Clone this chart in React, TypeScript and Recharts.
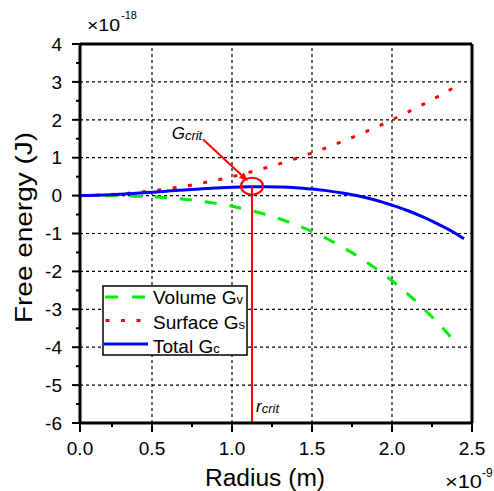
import React from 'react';
import { LineChart, Line, XAxis, YAxis, ReferenceLine, ReferenceDot } from 'recharts';

// ---- data (x in 1e-9 m, y in 1e-18 J) ----
const radius = [0.05, 0.1, 0.2, 0.3, 0.4, 0.5, 0.6, 0.7, 0.8, 0.9, 1.0, 1.1, 1.2, 1.3, 1.4, 1.5, 1.6, 1.7, 1.8, 1.9, 2.0, 2.1, 2.2, 2.3, 2.4];
const volume = [0, -0.0003, -0.002, -0.008, -0.018, -0.035, -0.061, -0.096, -0.144, -0.205, -0.281, -0.374, -0.486, -0.617, -0.771, -0.948, -1.151, -1.381, -1.639, -1.927, -2.248, -2.602, -2.992, -3.419, -3.885];
const surface = [0.001, 0.005, 0.02, 0.045, 0.08, 0.125, 0.18, 0.245, 0.32, 0.405, 0.5, 0.605, 0.72, 0.845, 0.98, 1.125, 1.28, 1.445, 1.62, 1.805, 2.0, 2.205, 2.42, 2.645, 2.88];
const totalRadius = [0.05, 0.1, 0.2, 0.3, 0.4, 0.5, 0.6, 0.7, 0.8, 0.9, 1.0, 1.1, 1.2, 1.3, 1.4, 1.5, 1.6, 1.7, 1.8, 1.9, 2.0, 2.1, 2.2, 2.3, 2.4, 2.45];
const total = [0.001, 0.005, 0.018, 0.037, 0.062, 0.09, 0.119, 0.149, 0.176, 0.2, 0.219, 0.231, 0.234, 0.228, 0.209, 0.172, 0.125, 0.062, -0.019, -0.122, -0.252, -0.4, -0.575, -0.777, -1.005, -1.14];

const xTicks = [0.05, 0.25, 0.5, 0.75, 1, 1.25, 1.5, 1.75, 2, 2.25, 2.5];
const xMajor = [0.05, 0.5, 1, 1.5, 2, 2.5];
const xTickLabels = ['0.0', '0.5', '1.0', '1.5', '2.0', '2.5'];
const yTicks = [-6, -5.5, -5, -4.5, -4, -3.5, -3, -2.5, -2, -1.5, -1, -0.5, 0, 0.5, 1, 1.5, 2, 2.5, 3, 3.5, 4];
const yMajor = [-6, -5, -4, -3, -2, -1, 0, 1, 2, 3, 4];
const yTickLabels = ['-6', '-5', '-4', '-3', '-2', '-1', '0', '1', '2', '3', '4'];
const xGrid = [0.5, 1, 1.5, 2];
const yGrid = [-5, -4, -3, -2, -1, 0, 1, 2, 3];
const xDomain = [0.05, 2.5];
const yDomain = [-6, 4];

// annotations
const rCrit = 1.125;
const gCrit = 0.25;
const arrowFrom = { x: 0.82, y: 1.48 };
const arrowTo = { x: 1.1, y: 0.38 };
const gLabelAt = { x: 0.623, y: 1.484 };
const rLabelAt = { x: 1.15, y: -5.713 };

const volumeData = radius.map((r, i) => ({ r, v: volume[i] }));
const surfaceData = radius.map((r, i) => ({ r, v: surface[i] }));
const totalData = totalRadius.map((r, i) => ({ r, v: total[i] }));

const FONT = '"Liberation Sans", Arial, Helvetica, sans-serif';

const BottomTick = (props: any) => {
  const { x, y, payload } = props;
  const i = xMajor.indexOf(payload.value);
  const major = i >= 0;
  return (
    <g>
      <line x1={x} y1={y} x2={x} y2={y + (major ? 9 : 4)} stroke="#000" strokeWidth={2} />
      {major && (
        <text x={x} y={y + 32} textAnchor="middle" fontSize={19} fontFamily={FONT} fill="#000">
          {xTickLabels[i]}
        </text>
      )}
    </g>
  );
};

const TopTick = (props: any) => {
  const { x, y, payload } = props;
  const major = xMajor.indexOf(payload.value) >= 0;
  return <line x1={x} y1={y} x2={x} y2={y + (major ? 9 : 6)} stroke="#000" strokeWidth={2} />;
};

const LeftTick = (props: any) => {
  const { x, y, payload } = props;
  const i = yMajor.indexOf(payload.value);
  const major = i >= 0;
  return (
    <g>
      <line x1={x} y1={y} x2={x - (major ? 8 : 4)} y2={y} stroke="#000" strokeWidth={2} />
      {major && (
        <text x={x - 18} y={y + 6.7} textAnchor="end" fontSize={19} fontFamily={FONT} fill="#000">
          {yTickLabels[i]}
        </text>
      )}
    </g>
  );
};

const RightTick = (props: any) => {
  const { x, y, payload } = props;
  const major = yMajor.indexOf(payload.value) >= 0;
  return <line x1={x} y1={y} x2={x - (major ? 9 : 5)} y2={y} stroke="#000" strokeWidth={2} />;
};

const ArrowShape = (props: any) => {
  const { x1, y1, x2, y2 } = props;
  const ang = Math.atan2(y2 - y1, x2 - x1);
  const L = 9;
  const W = 3.5;
  const bx = x2 - L * Math.cos(ang);
  const by = y2 - L * Math.sin(ang);
  const px = -Math.sin(ang) * W;
  const py = Math.cos(ang) * W;
  return (
    <g>
      <line x1={x1} y1={y1} x2={bx} y2={by} stroke="#ff0000" strokeWidth={2} />
      <polygon points={`${x2},${y2} ${bx + px},${by + py} ${bx - px},${by - py}`} fill="#ff0000" />
    </g>
  );
};

const CircleShape = (props: any) => (
  <ellipse cx={props.cx} cy={props.cy} rx={11} ry={8.5} fill="none" stroke="#ff0000" strokeWidth={2} />
);

const GLabel = (props: any) => (
  <text x={props.cx} y={props.cy} fontFamily={FONT} fontStyle="italic" fill="#000">
    <tspan fontSize={17}>G</tspan>
    <tspan fontSize={13} dy={1}>crit</tspan>
  </text>
);

const RLabel = (props: any) => (
  <text x={props.cx} y={props.cy} fontFamily={FONT} fontStyle="italic" fill="#000">
    <tspan fontSize={17}>r</tspan>
    <tspan fontSize={13} dy={1}>crit</tspan>
  </text>
);

const gridStyle = { stroke: '#000', strokeWidth: 1.2, strokeDasharray: '3 3' };
const frameStyle = { stroke: '#000', strokeWidth: 3 };

export default function App() {
  return (
    <div style={{ position: 'absolute', left: 0, top: 0, width: 494, height: 491, background: '#fff' }}>
      <LineChart width={494} height={491} margin={{ top: 43, right: 21, bottom: 67, left: 0 }}>
        <XAxis
          dataKey="r"
          type="number"
          domain={xDomain}
          ticks={xTicks}
          interval={0}
          height={1}
          tickSize={0}
          tickMargin={0}
          tickLine={false}
          tick={BottomTick}
          axisLine={false}
        />
        <XAxis
          xAxisId="top"
          orientation="top"
          dataKey="r"
          type="number"
          domain={xDomain}
          ticks={xTicks}
          interval={0}
          height={1}
          tickSize={0}
          tickMargin={0}
          tickLine={false}
          tick={TopTick}
          axisLine={false}
        />
        <YAxis
          type="number"
          domain={yDomain}
          ticks={yTicks}
          interval={0}
          width={80}
          tickSize={0}
          tickMargin={0}
          tickLine={false}
          tick={LeftTick}
          axisLine={false}
        />
        <YAxis
          yAxisId="right"
          orientation="right"
          type="number"
          domain={yDomain}
          ticks={yTicks}
          interval={0}
          width={1}
          tickSize={0}
          tickMargin={0}
          tickLine={false}
          tick={RightTick}
          axisLine={false}
        />
        {xGrid.map((v) => (
          <ReferenceLine key={'gx' + v} x={v} {...gridStyle} />
        ))}
        {yGrid.map((v) => (
          <ReferenceLine key={'gy' + v} y={v} {...gridStyle} />
        ))}
        <Line data={volumeData} dataKey="v" type="monotone" stroke="#00ee00" strokeWidth={3} strokeDasharray="12 13" dot={false} activeDot={false} isAnimationActive={false} />
        <Line data={surfaceData} dataKey="v" type="monotone" stroke="#ff0000" strokeWidth={3} strokeDasharray="4 11.5" dot={false} activeDot={false} isAnimationActive={false} />
        <Line data={totalData} dataKey="v" type="monotone" stroke="#0000ff" strokeWidth={3} dot={false} activeDot={false} isAnimationActive={false} />
        <ReferenceLine segment={[{ x: rCrit, y: gCrit }, { x: rCrit, y: yDomain[0] }]} stroke="#ff0000" strokeWidth={2} />
        <ReferenceLine segment={[arrowFrom, arrowTo]} shape={ArrowShape} />
        <ReferenceDot x={rCrit} y={gCrit} shape={CircleShape} />
        <ReferenceDot x={gLabelAt.x} y={gLabelAt.y} shape={GLabel} />
        <ReferenceDot x={rLabelAt.x} y={rLabelAt.y} shape={RLabel} />
        {/* frame */}
        <ReferenceLine x={xDomain[0]} {...frameStyle} />
        <ReferenceLine x={xDomain[1]} {...frameStyle} />
        <ReferenceLine y={yDomain[0]} {...frameStyle} />
        <ReferenceLine y={yDomain[1]} {...frameStyle} />
      </LineChart>
      <svg width={494} height={491} style={{ position: 'absolute', left: 0, top: 0, pointerEvents: 'none' }}>
        {/* axis titles */}
        <text x={32} y={227.5} transform="rotate(-90 32 227.5)" textAnchor="middle" fontSize={24} fontFamily={FONT} textLength={191} lengthAdjust="spacingAndGlyphs" fill="#000">
          Free energy (J)
        </text>
        <text x={265} y={486} textAnchor="middle" fontSize={23} fontFamily={FONT} textLength={120} lengthAdjust="spacingAndGlyphs" fill="#000">
          Radius (m)
        </text>
        {/* exponents */}
        <text x={87} y={31} fontSize={16} fontFamily={FONT} textLength={33} lengthAdjust="spacingAndGlyphs" fill="#000">×10</text>
        <text x={121} y={19} fontSize={11} fontFamily={FONT} fill="#000">-18</text>
        <text x={445} y={488} fontSize={18} fontFamily={FONT} textLength={37} lengthAdjust="spacingAndGlyphs" fill="#000">×10</text>
        <text x={482} y={477} fontSize={12} fontFamily={FONT} fill="#000">-9</text>
        {/* legend */}
        <rect x={103} y={286} width={144} height={69} fill="#fff" stroke="#000" strokeWidth={1.5} />
        <line x1={105} y1={297} x2={146} y2={297} stroke="#00ee00" strokeWidth={3} strokeDasharray="13 14" />
        <line x1={105.5} y1={320.5} x2={146} y2={320.5} stroke="#ff0000" strokeWidth={3} strokeDasharray="4 11.5" />
        <line x1={104} y1={344} x2={148} y2={344} stroke="#0000ff" strokeWidth={3} />
        <text x={153} y={303.5} fontSize={19} fontFamily={FONT} fill="#000">
          Volume G<tspan fontSize={13}>v</tspan>
        </text>
        <text x={153} y={328.5} fontSize={19} fontFamily={FONT} fill="#000">
          Surface G<tspan fontSize={13}>s</tspan>
        </text>
        <text x={153} y={353} fontSize={19} fontFamily={FONT} fill="#000">
          Total G<tspan fontSize={13}>c</tspan>
        </text>
      </svg>
    </div>
  );
}
